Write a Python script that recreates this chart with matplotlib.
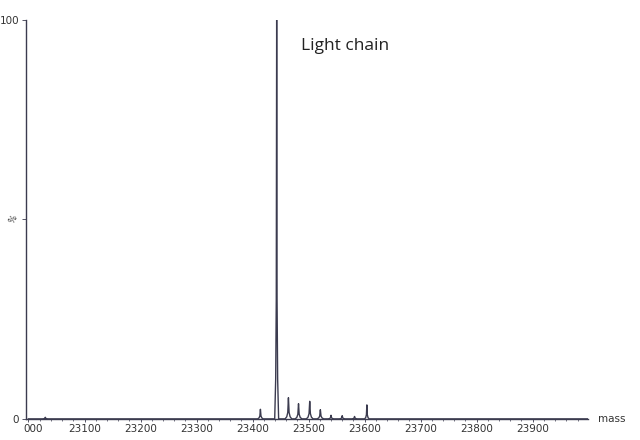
import numpy as np
import matplotlib
matplotlib.use('Agg')
import matplotlib.pyplot as plt
import matplotlib.transforms as mtransforms

# 피크 데이터 (mass, %)
peak_mass = [23030, 23414, 23443, 23464, 23482, 23502, 23521, 23540, 23560, 23582, 23604]
peak_height = [0.4, 2.4, 100, 5.3, 3.8, 4.4, 2.3, 0.9, 0.8, 0.6, 3.5]
peak_width = [5, 5, 3.5, 6, 6, 6, 6, 5, 5, 5, 4]

x_ticks = [23000, 23100, 23200, 23300, 23400, 23500, 23600, 23700, 23800, 23900]
x_labels = ['000', '23100', '23200', '23300', '23400', '23500', '23600', '23700', '23800', '23900']

line_color = '#3b3b4f'

# 스펙트럼 라인 만들기 (피크마다 꼭짓점 연결)
xs = [23000]
ys = [0]
for m, h, w in zip(peak_mass, peak_height, peak_width):
    xs += [m - w, m - w * 0.5, m - w * 0.2, m, m + w * 0.2, m + w * 0.5, m + w]
    ys += [0, h * 0.1, h * 0.3, h, h * 0.3, h * 0.1, 0]
xs.append(23998)
ys.append(0)

fig = plt.figure(figsize=(6.4, 4.4), dpi=100)
ax = fig.add_axes([0.041, 0.048, 0.878, 0.907])

ax.plot(xs, ys, color=line_color, linewidth=1.0)

ax.set_xlim(22996, 23999)
ax.set_ylim(0, 100)

ax.spines['top'].set_visible(False)
ax.spines['right'].set_visible(False)
ax.spines['left'].set_color(line_color)
ax.spines['bottom'].set_color(line_color)
ax.spines['left'].set_linewidth(1.0)
ax.spines['bottom'].set_linewidth(1.0)

ax.set_xticks(x_ticks)
ax.set_xticklabels(x_labels, fontsize=7.5, color='#333333', family='DejaVu Sans')
ax.set_xticks(np.arange(23000, 23990, 20), minor=True)
ax.tick_params(axis='x', which='major', length=2, width=0.6, color=line_color, pad=2)
ax.tick_params(axis='x', which='minor', length=1.5, width=0.5, color=line_color)

# 첫 라벨은 잘린 모양이라 오른쪽으로 조금 이동
offset = mtransforms.ScaledTranslation(5 / 100, 0, fig.dpi_scale_trans)
lbl = ax.get_xticklabels()[0]
lbl.set_transform(lbl.get_transform() + offset)

ax.set_yticks([0, 50, 100])
ax.set_yticklabels(['0', '', '100'], fontsize=7.5, color='#333333')
ax.tick_params(axis='y', length=3, width=0.6, color=line_color, pad=2)
ax.text(-0.013, 0.5, '%', transform=ax.transAxes, rotation=60, fontsize=6,
        ha='right', va='center', color='#333333')

ax.text(1.017, 0.0, 'mass', transform=ax.transAxes, fontsize=7.5, ha='left', va='center',
        color='#333333')
ax.text(23486, 93.5, 'Light chain', fontsize=12.5, family='Open Sans', color='#222222',
        ha='left', va='center')

fig.savefig('out.png', dpi=100, facecolor='white')
